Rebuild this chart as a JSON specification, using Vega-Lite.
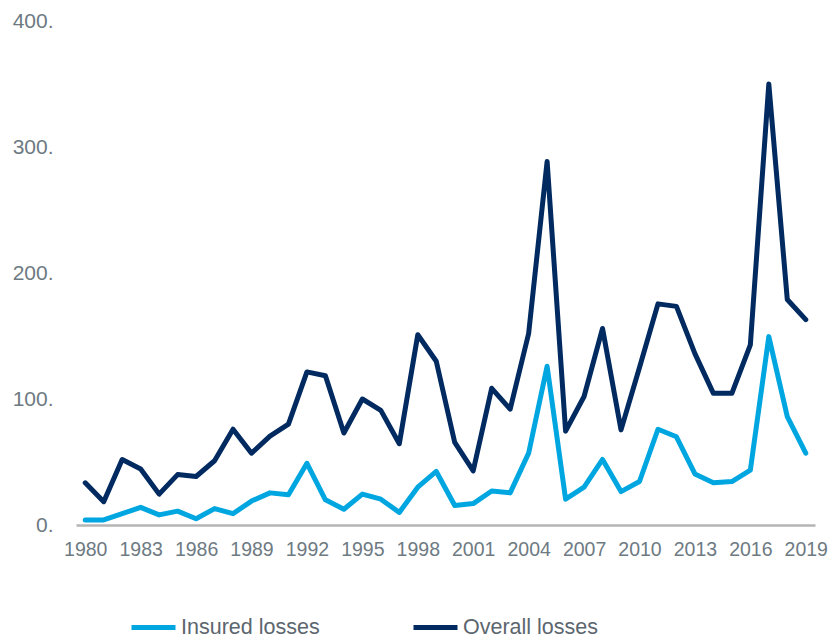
{
  "$schema": "https://vega.github.io/schema/vega-lite/v6.json",
  "width": 739,
  "height": 504,
  "autosize": {"type": "none"},
  "padding": {"left": 76, "top": 21, "right": 13, "bottom": 113},
  "background": "white",
  "config": {
    "view": {"stroke": null},
    "font": "Liberation Sans"
  },
  "data": {
    "values": [
      {"year": 1980, "Insured losses": 4, "Overall losses": 33.5},
      {"year": 1981, "Insured losses": 4, "Overall losses": 18.5},
      {"year": 1982, "Insured losses": 9, "Overall losses": 52},
      {"year": 1983, "Insured losses": 14, "Overall losses": 44.5},
      {"year": 1984, "Insured losses": 8, "Overall losses": 24.5},
      {"year": 1985, "Insured losses": 11, "Overall losses": 40},
      {"year": 1986, "Insured losses": 5, "Overall losses": 38.5},
      {"year": 1987, "Insured losses": 13, "Overall losses": 51},
      {"year": 1988, "Insured losses": 9, "Overall losses": 76},
      {"year": 1989, "Insured losses": 19, "Overall losses": 57},
      {"year": 1990, "Insured losses": 25.5, "Overall losses": 70.5},
      {"year": 1991, "Insured losses": 24, "Overall losses": 80},
      {"year": 1992, "Insured losses": 49, "Overall losses": 121.5},
      {"year": 1993, "Insured losses": 20, "Overall losses": 118.5},
      {"year": 1994, "Insured losses": 12.5, "Overall losses": 73},
      {"year": 1995, "Insured losses": 24.5, "Overall losses": 100},
      {"year": 1996, "Insured losses": 20.5, "Overall losses": 91},
      {"year": 1997, "Insured losses": 10, "Overall losses": 64.5},
      {"year": 1998, "Insured losses": 30, "Overall losses": 151},
      {"year": 1999, "Insured losses": 42.5, "Overall losses": 130},
      {"year": 2000, "Insured losses": 15.5, "Overall losses": 65.5},
      {"year": 2001, "Insured losses": 17, "Overall losses": 43},
      {"year": 2002, "Insured losses": 27, "Overall losses": 108.5},
      {"year": 2003, "Insured losses": 25.5, "Overall losses": 92},
      {"year": 2004, "Insured losses": 57, "Overall losses": 152},
      {"year": 2005, "Insured losses": 126, "Overall losses": 288.5},
      {"year": 2006, "Insured losses": 20.5, "Overall losses": 74.5},
      {"year": 2007, "Insured losses": 30, "Overall losses": 102},
      {"year": 2008, "Insured losses": 52, "Overall losses": 156},
      {"year": 2009, "Insured losses": 26.5, "Overall losses": 75.5},
      {"year": 2010, "Insured losses": 34.5, "Overall losses": 125},
      {"year": 2011, "Insured losses": 76, "Overall losses": 175.5},
      {"year": 2012, "Insured losses": 70, "Overall losses": 173.5},
      {"year": 2013, "Insured losses": 40.5, "Overall losses": 136},
      {"year": 2014, "Insured losses": 33.5, "Overall losses": 104.5},
      {"year": 2015, "Insured losses": 34.5, "Overall losses": 104.5},
      {"year": 2016, "Insured losses": 43.5, "Overall losses": 143},
      {"year": 2017, "Insured losses": 149.5, "Overall losses": 350},
      {"year": 2018, "Insured losses": 86, "Overall losses": 179},
      {"year": 2019, "Insured losses": 57, "Overall losses": 163}
    ]
  },
  "transform": [
    {"fold": ["Insured losses", "Overall losses"], "as": ["series", "losses"]}
  ],
  "mark": {
    "type": "line",
    "strokeWidth": 5,
    "strokeCap": "round",
    "strokeJoin": "round"
  },
  "encoding": {
    "x": {
      "field": "year",
      "type": "ordinal",
      "scale": {"type": "point", "padding": 0.5},
      "axis": {
        "title": null,
        "values": [1980, 1983, 1986, 1989, 1992, 1995, 1998, 2001, 2004, 2007, 2010, 2013, 2016, 2019],
        "labelAngle": 0,
        "labelFontSize": 19.5,
        "labelColor": "#6e7a82",
        "labelPadding": 15,
        "ticks": false,
        "grid": false,
        "domainColor": "#b5b5b5",
        "domainWidth": 2.5
      }
    },
    "y": {
      "field": "losses",
      "type": "quantitative",
      "scale": {"domain": [0, 400]},
      "axis": {
        "title": null,
        "values": [0, 100, 200, 300, 400],
        "labelExpr": "datum.label + '.'",
        "labelFontSize": 21,
        "labelColor": "#6e7a82",
        "labelPadding": 23,
        "ticks": false,
        "domain": false,
        "grid": false
      }
    },
    "color": {
      "field": "series",
      "type": "nominal",
      "scale": {
        "domain": ["Insured losses", "Overall losses"],
        "range": ["#00A6E0", "#002A60"]
      },
      "legend": {
        "title": null,
        "orient": "none",
        "direction": "horizontal",
        "legendX": 53,
        "legendY": 582,
        "symbolType": "stroke",
        "symbolSize": 1936,
        "symbolStrokeWidth": 5,
        "labelFontSize": 21.5,
        "labelColor": "#5c666e",
        "labelOffset": 3,
        "columnPadding": 83,
        "labelLimit": 300
      }
    }
  }
}
